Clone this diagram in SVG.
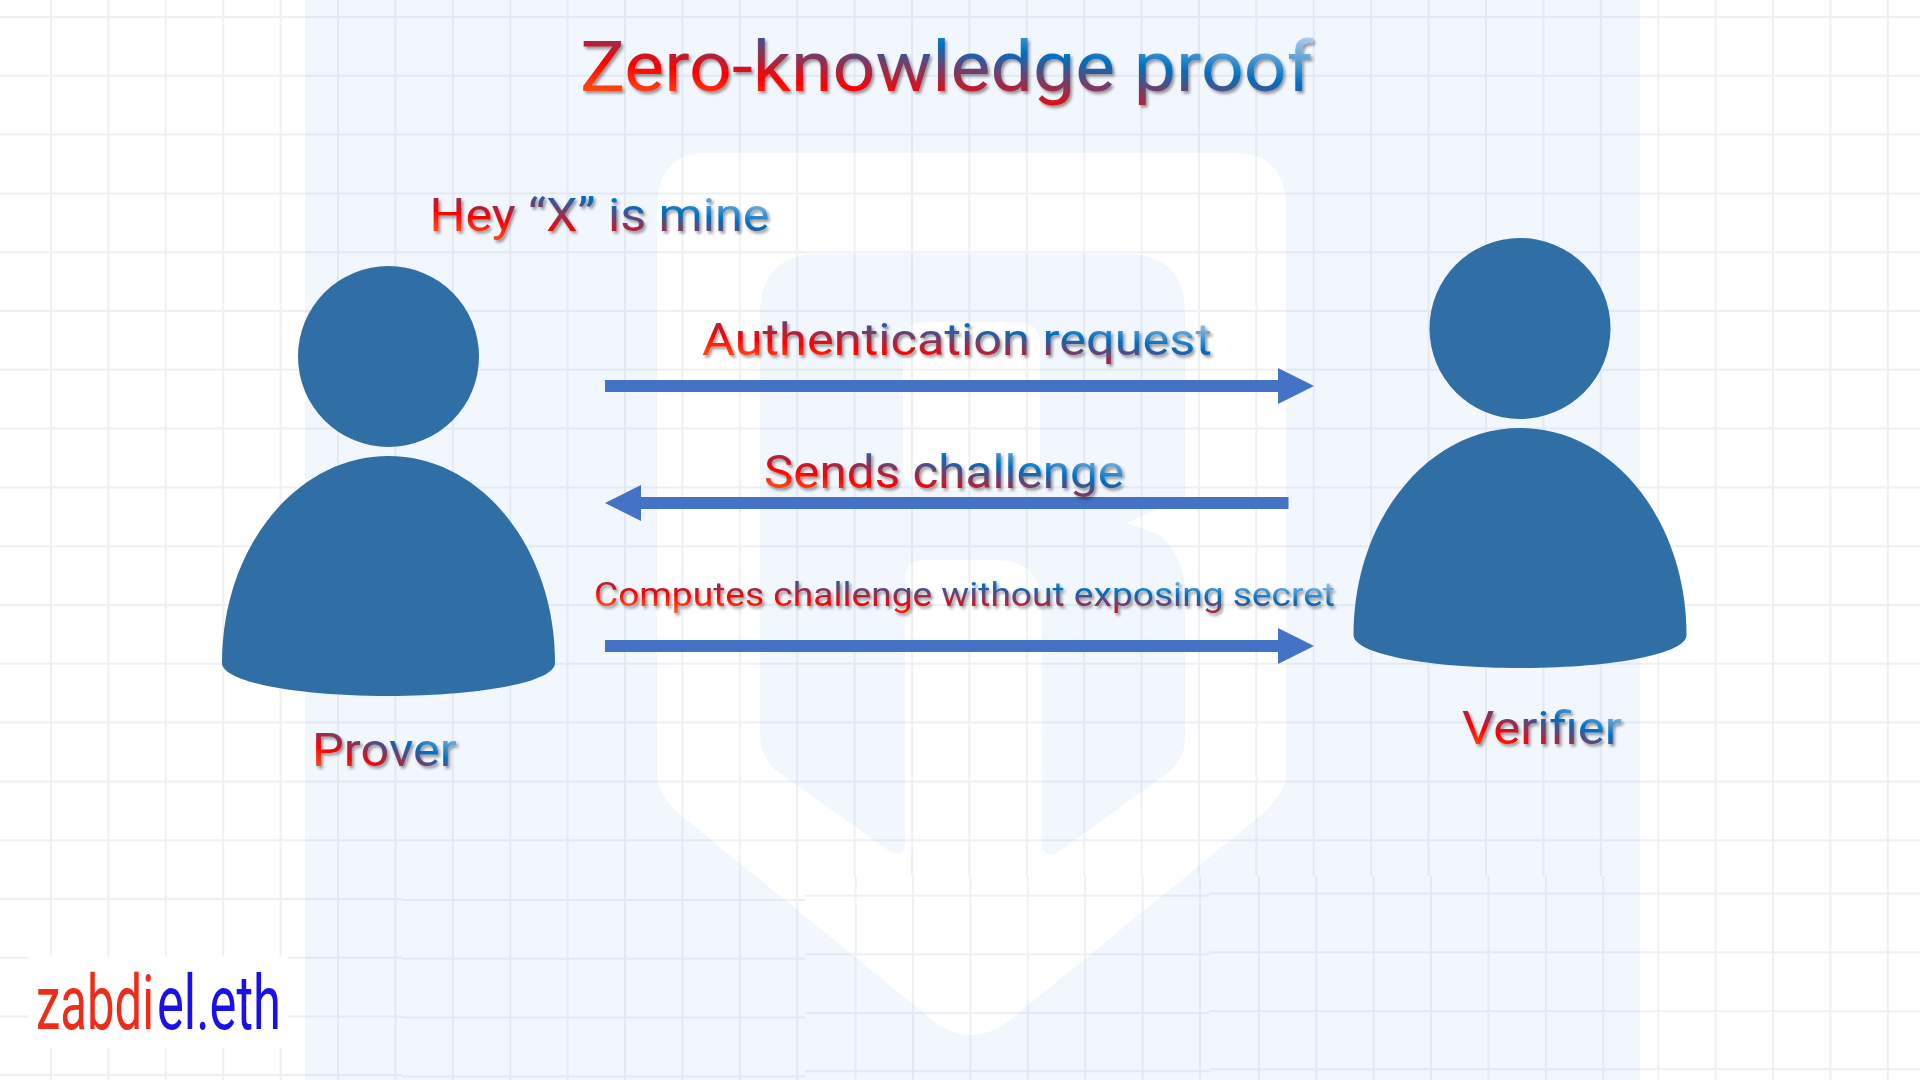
<svg xmlns="http://www.w3.org/2000/svg" width="1920" height="1080" viewBox="0 0 1920 1080">
<style>
.grid{fill:none;stroke:#8c9bb5;stroke-opacity:.15;stroke-width:2}
.panel{fill:#f2f7fe}
.white{fill:#fff}
.person{fill:#2f6fa6}
.arrow{stroke:#4472c4;stroke-width:12;fill:none}
.lab{font-family:Roboto,"Noto Sans",sans-serif;font-weight:400;fill:url(#tg);filter:url(#sh)}
.zab{font-family:Roboto,"Noto Sans",sans-serif;font-weight:400;font-size:76px}
</style>
<defs>
<linearGradient id="tg" x1="0" y1="1" x2="1" y2="0">
<stop offset="0" stop-color="#ff7000"/>
<stop offset=".16" stop-color="#ff3a14"/>
<stop offset=".3" stop-color="#ff0000"/>
<stop offset=".64" stop-color="#0070c0"/>
<stop offset=".95" stop-color="#bdd7ee"/>
</linearGradient>
<filter id="sh" x="-5%" y="-20%" width="110%" height="140%">
<feDropShadow dx="2" dy="2.5" stdDeviation="1.5" flood-color="#000" flood-opacity=".4"/>
</filter>
<marker id="head" markerUnits="strokeWidth" markerWidth="3" markerHeight="3" refX="0" refY="1.5" orient="auto">
<path d="M0,0L3,1.5L0,3Z" fill="#4472c4"/>
</marker>
</defs>
<g id="background">
<rect class="white" width="1920" height="1080"/>
<rect class="panel" x="305" width="1335" height="1080"/>
<path class="white" d="M705,153H1235Q1286,153 1286,210V775Q1286,795 1255,820L1016,1015Q971,1055 926,1015L683,817Q657,795 657,775V210Q657,153 705,153Z"/>
<path class="panel" d="M820,254H1125Q1185,254 1185,314V740Q1185,760 1165,775L1058,852Q1048,858 1042,848L905,848Q900,858 888,850L775,770Q760,755 760,735V314Q760,254 820,254Z"/>
<rect class="white" x="903" y="322" width="137" height="168" rx="20"/>
<path class="white" d="M905,870V580Q905,560 925,560H995Q1042,560 1042,607V870Z"/>
<path class="white" d="M1186,495L1127,523L1160,535Q1186,560 1186,600Z"/>
<path class="grid" d="M0,17H1920M0,75.8H1920M0,134.6H1920M0,193.4H1920M0,252.2H1920M0,311H1920M0,369.8H1920M0,428.6H1920M0,487.4H1920M0,546.2H1920M0,605H1920M0,663.8H1920M0,722.6H1920M0,781.4H1920M0,840.2H1920
M0,899H402M0,957.7H402M0,1016.5H402M0,1075H402
M402,900H805M402,958.8H805M402,1017.6H805M402,1076.4H805
M805,895.7H1209M805,954.3H1209M805,1013H1209M805,1071.3H1209
M1209,893.5H1920M1209,952.3H1920M1209,1011.2H1920M1209,1069.3H1920
M51,0V1080M108.4,0V1080M165.8,0V1080M223.2,0V1080M280.6,0V1080M338,0V1080M395.4,0V1080M452.8,0V1080M510.2,0V1080M567.6,0V1080M625,0V1080M682.4,0V1080M739.8,0V1080M797.2,0V1080
M854.6,0V876M912,0V876M969.4,0V876M1026.8,0V876M1084.2,0V876M1141.6,0V876M1199,0V876M1256.4,0V876M1313.8,0V876M1371.2,0V876M1428.6,0V876M1486,0V876M1543.4,0V876M1600.8,0V876
M855.6,876V1080M913,876V1080M970.4,876V1080M1027.8,876V1080M1085.2,876V1080M1142.6,876V1080M1200,876V1080
M1258.9,876V1080M1316.3,876V1080M1373.7,876V1080M1431.1,876V1080M1488.5,876V1080M1545.9,876V1080M1603.3,876V1080
M1658.2,0V1080M1715.6,0V1080M1773,0V1080M1830.4,0V1080M1887.8,0V1080"/>
</g>
<g id="connectors">
<line class="arrow" x1="605" y1="386" x2="1278" y2="386" marker-end="url(#head)"/>
<line class="arrow" x1="1288.5" y1="503" x2="641" y2="503" marker-end="url(#head)"/>
<line class="arrow" x1="605" y1="646" x2="1278" y2="646" marker-end="url(#head)"/>
</g>
<g id="title">
<text class="lab" x="580" y="91" font-size="70" textLength="733" lengthAdjust="spacingAndGlyphs">Zero-knowledge proof</text>
</g>
<g id="prover">
<circle class="person" cx="388.5" cy="356.5" r="90.5"/>
<path class="person" d="M222,663C222,548 296,456 388.5,456C481,456 555,548 555,663C555,682 480,696 388.5,696C297,696 222,682 222,663Z"/>
<text class="lab" x="312" y="766" font-size="46" textLength="145" lengthAdjust="spacingAndGlyphs">Prover</text>
<text class="lab" x="429.500" y="231" font-size="46" textLength="340" lengthAdjust="spacingAndGlyphs">Hey “X” is mine</text>
</g>
<g id="verifier">
<circle class="person" cx="1520" cy="328.5" r="90.5"/>
<path class="person" d="M1353.500,635C1353.500,520 1427.500,428 1520,428C1612.500,428 1686.500,520 1686.500,635C1686.500,654 1611.500,668 1520,668C1428.500,668 1353.500,654 1353.500,635Z"/>
<text class="lab" x="1462" y="744" font-size="46" textLength="160" lengthAdjust="spacingAndGlyphs">Verifier</text>
</g>
<g id="labels">
<text class="lab" x="702" y="355" font-size="45" textLength="510" lengthAdjust="spacingAndGlyphs">Authentication request</text>
<text class="lab" x="764" y="488" font-size="46" textLength="360" lengthAdjust="spacingAndGlyphs">Sends challenge</text>
<text class="lab" x="594" y="606" font-size="33" textLength="741" lengthAdjust="spacingAndGlyphs">Computes challenge without exposing secret</text>
</g>
<g id="signature">
<rect class="white" x="29" y="956" width="259" height="92"/>
<text class="zab" transform="translate(36,1029) scale(.645,1)" fill="#ee2c1a">zabdi</text>
<text class="zab" transform="translate(157,1029) scale(.667,1)" fill="#1a10e8">el.eth</text>
</g>
</svg>
